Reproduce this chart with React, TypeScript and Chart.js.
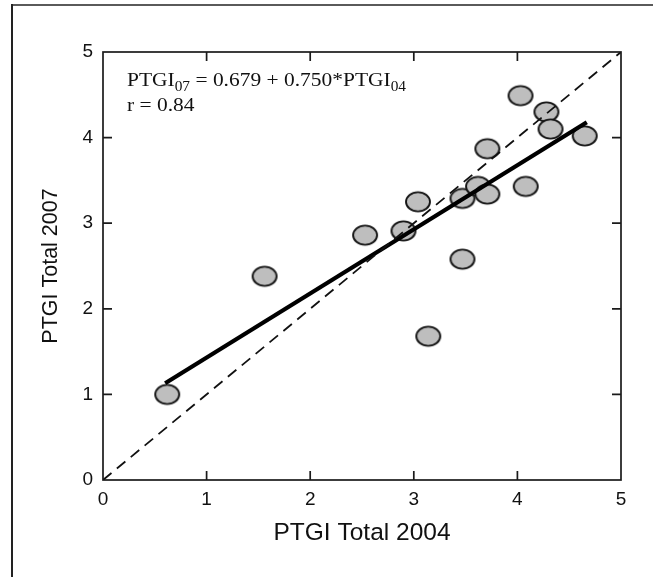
import React, { useEffect, useRef } from "react";
import { Chart, registerables } from "chart.js";

Chart.register(...registerables);

// Scatter values
const ptgi2004 = [0.62, 1.56, 2.53, 2.90, 3.04, 3.14, 3.47, 3.47, 3.62, 3.71, 3.71, 4.08, 4.03, 4.28, 4.32, 4.65];
const ptgi2007 = [1.00, 2.38, 2.86, 2.91, 3.25, 1.68, 3.29, 2.58, 3.43, 3.34, 3.87, 3.43, 4.49, 4.30, 4.10, 4.02];

// Identity (dashed) line ends
const identityX = [0, 5];
const identityY = [0, 5];

// Regression line ends
const regressionX = [0.6, 4.67];
const regressionY = [1.13, 4.18];

// Axis ticks
const tickValues = [0, 1, 2, 3, 4, 5];

const xTitle = "PTGI Total 2004";
const yTitle = "PTGI Total 2007";
const equationParts: [string, boolean][] = [
  ["PTGI", false],
  ["07", true],
  [" = 0.679 + 0.750*PTGI", false],
  ["04", true],
];
const rLine = "r = 0.84";

function makeEllipse(): HTMLCanvasElement {
  const c = document.createElement("canvas");
  c.width = 28;
  c.height = 24;
  const g = c.getContext("2d")!;
  g.beginPath();
  g.ellipse(14, 12, 12, 9.6, 0, 0, Math.PI * 2);
  g.fillStyle = "#bebebe";
  g.fill();
  g.lineWidth = 1.9;
  g.strokeStyle = "#151515";
  g.stroke();
  return c;
}

const decor = {
  id: "decor",
  afterDraw(chart: any) {
    const { ctx, chartArea: a, scales } = chart;
    const x = scales.x;
    const y = scales.y;
    ctx.save();
    // page frame
    ctx.lineWidth = 2;
    ctx.strokeStyle = "#5a5a5a";
    ctx.beginPath();
    ctx.moveTo(11, 5);
    ctx.lineTo(653, 5);
    ctx.stroke();
    ctx.strokeStyle = "#222";
    ctx.beginPath();
    ctx.moveTo(12, 4);
    ctx.lineTo(12, 577);
    ctx.stroke();

    // plot frame
    ctx.strokeStyle = "#1a1a1a";
    ctx.lineWidth = 1.7;
    ctx.strokeRect(a.left, a.top, a.right - a.left, a.bottom - a.top);

    // inward ticks on all four sides
    ctx.beginPath();
    for (const v of tickValues) {
      if (v <= 0 || v >= 5) continue;
      const px = x.getPixelForValue(v);
      ctx.moveTo(px, a.bottom);
      ctx.lineTo(px, a.bottom - 9);
      ctx.moveTo(px, a.top);
      ctx.lineTo(px, a.top + 9);
      const py = y.getPixelForValue(v);
      ctx.moveTo(a.left, py);
      ctx.lineTo(a.left + 9, py);
      ctx.moveTo(a.right, py);
      ctx.lineTo(a.right - 9, py);
    }
    ctx.stroke();

    // equation annotation
    ctx.fillStyle = "#111";
    ctx.textBaseline = "alphabetic";
    const sx = 1.1;
    ctx.save();
    ctx.translate(a.left + 24, 86);
    ctx.scale(sx, 1);
    let cx = 0;
    for (const [t, sub] of equationParts) {
      ctx.font = sub ? '14px "Liberation Serif"' : '19.5px "Liberation Serif"';
      ctx.fillText(t, cx, sub ? 5 : 0);
      cx += ctx.measureText(t).width;
    }
    ctx.restore();
    ctx.save();
    ctx.translate(a.left + 24, 111);
    ctx.scale(sx, 1);
    ctx.font = '19.5px "Liberation Serif"';
    ctx.fillText(rLine, 0, 0);
    ctx.restore();
    ctx.restore();
  },
};

export default function App() {
  const ref = useRef<HTMLCanvasElement>(null);
  useEffect(() => {
    const dot = makeEllipse();
    const chart = new Chart(ref.current!, {
      type: "scatter",
      data: {
        datasets: [
          {
            type: "line",
            data: identityX.map((v, i) => ({ x: v, y: identityY[i] })),
            borderColor: "#111",
            borderWidth: 1.8,
            borderDash: [11, 7],
            pointRadius: 0,
            fill: false,
            order: 0,
          },
          {
            type: "line",
            data: regressionX.map((v, i) => ({ x: v, y: regressionY[i] })),
            borderColor: "#000",
            borderWidth: 4.2,
            pointRadius: 0,
            fill: false,
            order: 1,
          },
          {
            type: "scatter",
            data: ptgi2004.map((v, i) => ({ x: v, y: ptgi2007[i] })),
            pointStyle: dot as any,
            pointRadius: 12,
            order: 2,
          },
        ],
      },
      options: {
        responsive: false,
        animation: false,
        layout: { padding: { left: 0, top: 52, right: 32, bottom: 0 } },
        plugins: { legend: { display: false }, tooltip: { enabled: false } },
        scales: {
          x: {
            type: "linear",
            min: 0,
            max: 5,
            afterFit: (s: any) => {
              s.height = 97;
            },
            afterBuildTicks: (s: any) => {
              s.ticks = tickValues.map((v) => ({ value: v }));
            },
            grid: { display: false, drawTicks: false },
            border: { display: false },
            ticks: {
              padding: 8,
              color: "#111",
              font: { family: '"Liberation Sans", Arial, sans-serif', size: 19 },
            },
            title: {
              display: true,
              text: xTitle,
              color: "#111",
              font: { family: '"Liberation Sans", Arial, sans-serif', size: 24.5 },
              padding: { bottom: 29 },
            },
          },
          y: {
            type: "linear",
            min: 0,
            max: 5,
            afterFit: (s: any) => {
              s.width = 103;
            },
            afterBuildTicks: (s: any) => {
              s.ticks = tickValues.map((v) => ({ value: v }));
            },
            grid: { display: false, drawTicks: false },
            border: { display: false },
            ticks: {
              padding: 10,
              color: "#111",
              font: { family: '"Liberation Sans", Arial, sans-serif', size: 19 },
            },
            title: {
              display: true,
              text: yTitle,
              color: "#111",
              font: { family: '"Liberation Sans", Arial, sans-serif', size: 21.5 },
              padding: { top: 38 },
            },
          },
        },
      },
      plugins: [decor],
    });
    return () => chart.destroy();
  }, []);
  return (
    <div style={{ position: "fixed", left: 0, top: 0, width: 653, height: 577, background: "#fff" }}>
      <canvas ref={ref} width={653} height={577} />
    </div>
  );
}
